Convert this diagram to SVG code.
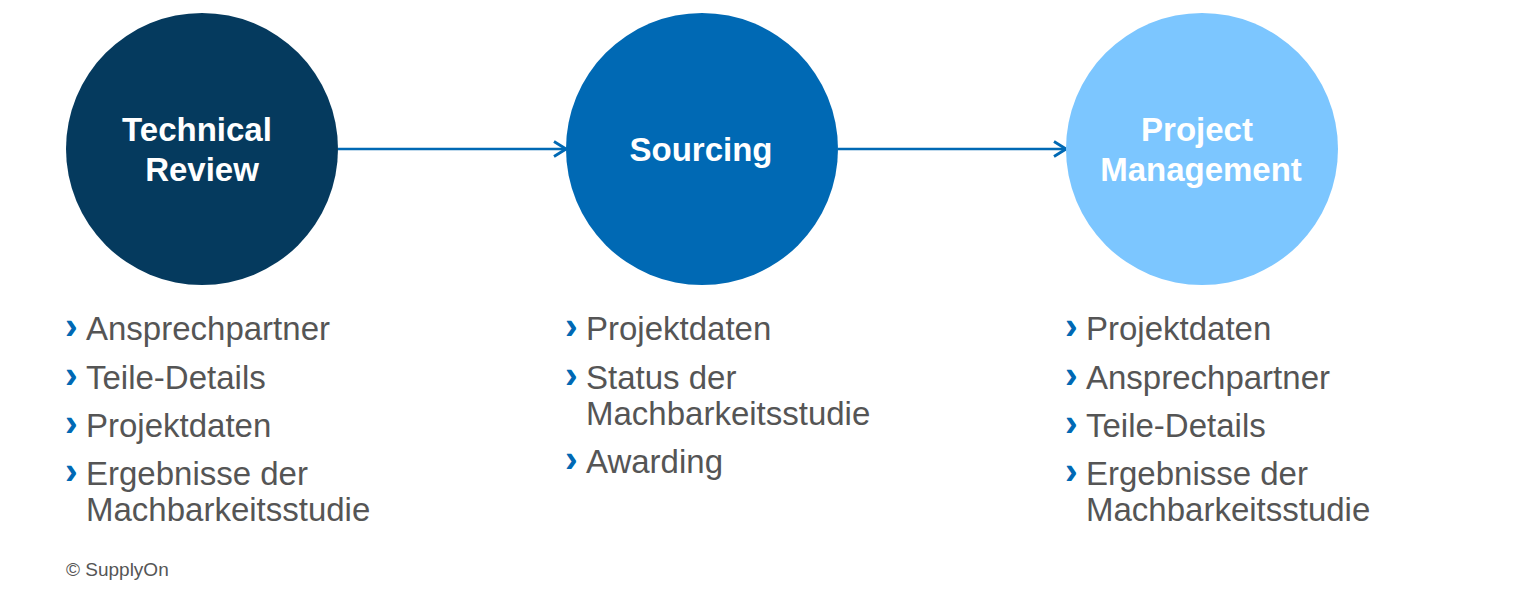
<svg xmlns="http://www.w3.org/2000/svg" width="1524" height="591" viewBox="0 0 1524 591">
<style>
.title{font-family:"Liberation Sans",Arial,sans-serif;font-weight:bold;font-size:33px;fill:#ffffff;text-anchor:middle}
.item{font-family:"Liberation Sans",Arial,sans-serif;font-size:33px;fill:#555555}
.bul{font-family:"Liberation Sans",Arial,sans-serif;font-weight:bold;font-size:38px;fill:#0069b4}
.conn{stroke:#0069b4;stroke-width:2.5;fill:none}
.copy{font-family:"Liberation Sans",Arial,sans-serif;font-size:19px;fill:#555555}
</style>
<defs>
<marker id="arr" markerWidth="16" markerHeight="18" refX="14" refY="9" orient="auto" markerUnits="userSpaceOnUse" viewBox="0 0 16 18">
<path d="M2,1.5 L14,9 L2,16.5" fill="none" stroke="#0069b4" stroke-width="2.8"/>
</marker>
</defs>
<rect width="1524" height="591" fill="#ffffff"/>
<g id="connectors">
<line class="conn" x1="338" y1="149" x2="566" y2="149" marker-end="url(#arr)"/>
<line class="conn" x1="838" y1="149" x2="1066" y2="149" marker-end="url(#arr)"/>
</g>
<g id="technical-review">
<circle cx="202" cy="149" r="136" fill="#053a5e"/>
<text class="title" x="197" y="141">Technical</text>
<text class="title" x="202" y="181">Review</text>
<text class="bul" x="65" y="339">›</text><text class="item" x="86" y="340">Ansprechpartner</text>
<text class="bul" x="65" y="388">›</text><text class="item" x="86" y="389">Teile-Details</text>
<text class="bul" x="65" y="436">›</text><text class="item" x="86" y="437">Projektdaten</text>
<text class="bul" x="65" y="484">›</text><text class="item" x="86" y="485">Ergebnisse der</text>
<text class="item" x="86" y="521">Machbarkeitsstudie</text>
</g>
<g id="sourcing">
<circle cx="702" cy="149" r="136" fill="#0069b4"/>
<text class="title" x="701" y="161">Sourcing</text>
<text class="bul" x="565" y="339">›</text><text class="item" x="586" y="340">Projektdaten</text>
<text class="bul" x="565" y="388">›</text><text class="item" x="586" y="389">Status der</text>
<text class="item" x="586" y="425">Machbarkeitsstudie</text>
<text class="bul" x="565" y="472">›</text><text class="item" x="586" y="473">Awarding</text>
</g>
<g id="project-management">
<circle cx="1202" cy="149" r="136" fill="#7cc6ff"/>
<text class="title" x="1197" y="141">Project</text>
<text class="title" x="1201" y="181">Management</text>
<text class="bul" x="1065" y="339">›</text><text class="item" x="1086" y="340">Projektdaten</text>
<text class="bul" x="1065" y="388">›</text><text class="item" x="1086" y="389">Ansprechpartner</text>
<text class="bul" x="1065" y="436">›</text><text class="item" x="1086" y="437">Teile-Details</text>
<text class="bul" x="1065" y="484">›</text><text class="item" x="1086" y="485">Ergebnisse der</text>
<text class="item" x="1086" y="521">Machbarkeitsstudie</text>
</g>
<text class="copy" x="66" y="576">© SupplyOn</text>
</svg>
